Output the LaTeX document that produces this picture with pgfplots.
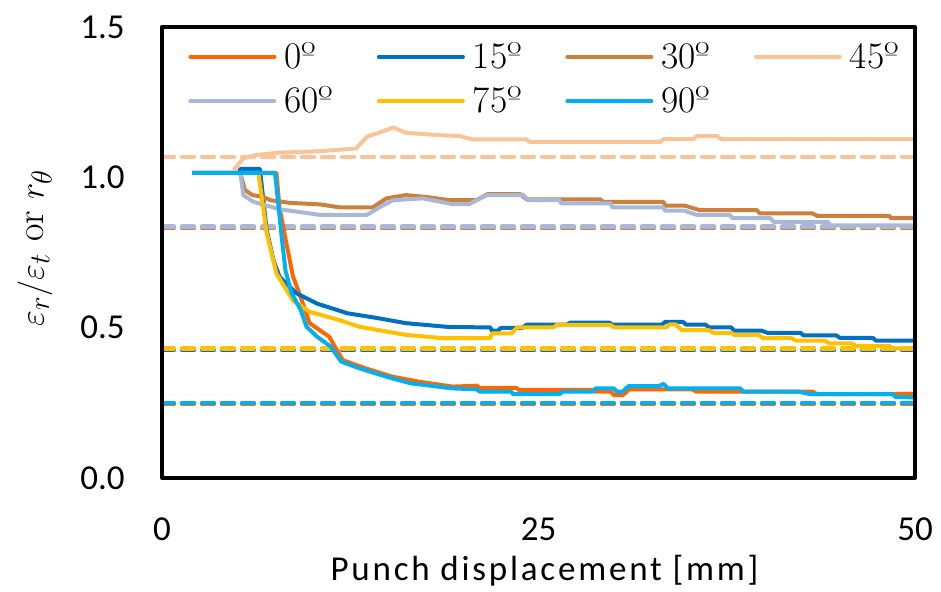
\documentclass[border=0pt]{standalone}
\usepackage{pgfplots}
\pgfplotsset{compat=1.18}
\usepackage{fontspec}
\newfontfamily\calfont{Carlito}
\newfontfamily\calsp[LetterSpace=8]{Carlito}
\definecolor{c0}{RGB}{255,102,0}
\definecolor{c15}{RGB}{0,112,192}
\definecolor{c30}{RGB}{204,128,60}
\definecolor{c45}{RGB}{251,196,150}
\definecolor{c60}{RGB}{168,184,214}
\definecolor{c75}{RGB}{255,192,0}
\definecolor{c90}{RGB}{0,176,240}
\begin{document}
\begin{tikzpicture}
\begin{axis}[
  scale only axis, width=376.5pt, height=225.5pt,
  xmin=0, xmax=50, ymin=0, ymax=1.5,
  xtick={0,25,50}, ytick={0,0.5,1,1.5},
  major tick length=0pt,
  axis on top,
  axis line style={line width=2pt, line join=round},
  /pgf/number format/assume math mode=true,
  yticklabel={\pgfmathprintnumber[fixed,fixed zerofill,precision=1]{\tick}},
  ticklabel style={font=\calfont\fontsize{17.5}{20}\selectfont, inner sep=0pt},
  yticklabel style={anchor=east, xshift=-18.5pt},
  xticklabel style={anchor=north, yshift=-19.5pt},
  xlabel={Punch displacement [mm]},
  xlabel style={at={(axis description cs:0.5,0)}, anchor=base, yshift=-51pt, xshift=3pt, font=\calsp\fontsize{17.5}{20}\selectfont, inner sep=0pt},
  ylabel={$\varepsilon_r\big/\varepsilon_t$\ or\ $r_\theta$},
  ylabel style={at={(axis description cs:-0.1687,0.51)}, anchor=center, font=\fontsize{19}{22}\selectfont, inner sep=0pt},
  legend columns=4,
  legend style={at={(rel axis cs:0,1)}, anchor=north west, xshift=10pt, yshift=-5.3pt,
    draw=none, fill=none, font=\fontsize{18.75}{22}\selectfont,
    nodes={inner sep=0pt}, row sep=7.7pt,
    /tikz/every odd column/.style={column sep=4pt},
    /tikz/every even column/.style={column sep=0pt}},
  legend image code/.code={\draw[#1, line width=2pt, line cap=round] (0pt,0pt) -- (42pt,0pt);},
  every axis plot/.append style={line join=round},
]
% dashed reference lines
\addplot[c0, line width=2.2pt, dash pattern=on 6pt off 4pt, line cap=round, forget plot] coordinates {(0,0.246) (50,0.246)};
\addplot[c90, line width=2.2pt, dash pattern=on 6pt off 4pt, line cap=round, forget plot] coordinates {(0,0.250) (50,0.250)};
\addplot[c15, line width=2.2pt, dash pattern=on 6pt off 4pt, line cap=round, forget plot] coordinates {(0,0.426) (50,0.426)};
\addplot[c75, line width=2.2pt, dash pattern=on 6pt off 4pt, line cap=round, forget plot] coordinates {(0,0.431) (50,0.431)};
\addplot[c30, line width=2.2pt, dash pattern=on 6pt off 4pt, line cap=round, forget plot] coordinates {(0,0.832) (50,0.832)};
\addplot[c60, line width=2.2pt, dash pattern=on 6pt off 4pt, line cap=round, forget plot] coordinates {(0,0.836) (50,0.836)};
\addplot[c45, line width=2.2pt, dash pattern=on 6pt off 4pt, line cap=round, forget plot] coordinates {(0,1.067) (50,1.067)};
% 0
\addplot[c0, line width=2pt] coordinates {(2,1.015) (7.6,1.015) (7.8,0.90) (8.3,0.77) (8.7,0.67) (9.2,0.603) (9.8,0.515) (11.1,0.47) (12.0,0.392) (13.5,0.365) (15.3,0.337) (17.1,0.32) (19.3,0.304) (20.9,0.307) (21.1,0.300) (23.5,0.300) (23.7,0.293) (28.5,0.293) (28.8,0.287) (29.8,0.287) (30.0,0.276) (30.6,0.276) (30.8,0.284) (31.0,0.295) (35.2,0.295) (35.5,0.287) (43.2,0.287) (43.5,0.279) (48.6,0.279) (48.8,0.280) (50,0.280)};
\addlegendentry{\makebox[46.25pt][l]{0º}}
% 15
\addplot[c15, line width=2pt] coordinates {(2,1.015) (5.1,1.015) (5.2,1.028) (6.5,1.028) (6.95,0.825) (7.4,0.725) (7.8,0.67) (8.9,0.615) (10.3,0.58) (12.3,0.548) (14.3,0.532) (16.2,0.515) (19.1,0.502) (21.8,0.501) (21.9,0.490) (22.3,0.490) (22.5,0.499) (23.9,0.499) (24.2,0.510) (26.9,0.510) (27.1,0.517) (29.7,0.517) (29.9,0.510) (33.2,0.510) (33.4,0.519) (34.6,0.519) (34.8,0.510) (36.1,0.510) (36.3,0.501) (37.8,0.501) (38.0,0.490) (39.8,0.490) (40.2,0.483) (42.4,0.483) (42.6,0.474) (44.8,0.474) (45.0,0.466) (47.2,0.466) (47.4,0.457) (50,0.457)};
\addlegendentry{\makebox[46.25pt][l]{15º}}
% 30
\addplot[c30, line width=2pt] coordinates {(5.2,1.015) (5.5,0.958) (6.0,0.941) (6.7,0.935) (7.2,0.924) (8.5,0.915) (10.5,0.91) (11.8,0.900) (14.0,0.900) (14.9,0.930) (16.2,0.941) (17.5,0.935) (19.1,0.924) (20.9,0.924) (21.6,0.944) (23.8,0.944) (24.2,0.927) (29.1,0.927) (29.3,0.918) (33.3,0.918) (33.4,0.906) (34.7,0.906) (35.7,0.891) (39.5,0.891) (39.7,0.880) (43.2,0.880) (43.5,0.872) (48.3,0.872) (48.4,0.864) (50,0.864)};
\addlegendentry{\makebox[46.25pt][l]{30º}}
% 45
\addplot[c45, line width=2pt] coordinates {(4.75,1.024) (5.4,1.063) (6.2,1.074) (7.8,1.082) (10.5,1.087) (12.9,1.096) (13.6,1.135) (14.9,1.157) (15.35,1.166) (16.2,1.148) (18.5,1.14) (19.8,1.137) (20.6,1.126) (24.2,1.126) (24.4,1.118) (33.1,1.118) (33.3,1.127) (35.3,1.127) (35.5,1.137) (36.9,1.137) (37.1,1.127) (50,1.127)};
\addlegendentry{\makebox[46.25pt][l]{45º}}
% 60
\addplot[c60, line width=2pt] coordinates {(5.2,1.015) (5.4,0.941) (6.05,0.919) (7.8,0.894) (10.5,0.875) (13.6,0.875) (14.5,0.902) (15.35,0.924) (17.3,0.930) (19.3,0.911) (20.4,0.911) (21.1,0.93) (21.6,0.941) (24.0,0.941) (24.3,0.924) (26.4,0.924) (26.5,0.913) (29.8,0.913) (29.9,0.900) (33.3,0.900) (33.4,0.889) (34.7,0.889) (35.5,0.875) (37.7,0.875) (37.9,0.864) (40.4,0.864) (40.6,0.852) (44.2,0.852) (44.4,0.840) (50,0.840)};
\addlegendentry{\makebox[46.25pt][l]{60º}}
% 75
\addplot[c75, line width=2pt] coordinates {(2,1.015) (6.4,1.015) (6.95,0.815) (7.6,0.68) (8.7,0.59) (9.8,0.553) (11.8,0.525) (13.1,0.503) (16.2,0.476) (18.7,0.465) (21.8,0.465) (21.9,0.481) (23.2,0.481) (23.6,0.501) (26.0,0.501) (26.2,0.509) (29.8,0.509) (30.0,0.501) (33.5,0.501) (33.7,0.511) (34.1,0.511) (34.5,0.492) (36.3,0.492) (36.6,0.483) (37.8,0.483) (38.0,0.476) (39.6,0.476) (39.9,0.465) (41.8,0.465) (42.1,0.457) (44.0,0.457) (44.3,0.448) (45.8,0.448) (46.1,0.439) (48.3,0.439) (48.5,0.431) (50,0.431)};
\addlegendentry{\makebox[46.25pt][l]{75º}}
% 90
\addplot[c90, line width=2pt] coordinates {(2,1.015) (7.5,1.015) (7.6,0.97) (7.95,0.80) (8.2,0.69) (8.6,0.615) (9.2,0.56) (9.6,0.503) (10.3,0.47) (11.2,0.437) (11.9,0.387) (13.1,0.365) (14.9,0.337) (16.5,0.315) (19.3,0.298) (20.9,0.295) (21.1,0.287) (23.2,0.287) (23.3,0.279) (26.4,0.279) (26.6,0.287) (28.6,0.287) (28.8,0.298) (30.0,0.298) (30.2,0.287) (30.6,0.287) (30.8,0.298) (31.0,0.306) (33.0,0.306) (33.3,0.313) (33.6,0.298) (38.4,0.298) (38.6,0.287) (42.3,0.287) (43.0,0.279) (48.5,0.279) (48.7,0.270) (50,0.268)};
\addlegendentry{\makebox[46.25pt][l]{90º}}
\end{axis}
\pgfresetboundingbox
\path[use as bounding box] (-81pt,-56.5pt) rectangle (389.5pt,239pt);
\end{tikzpicture}
\end{document}
